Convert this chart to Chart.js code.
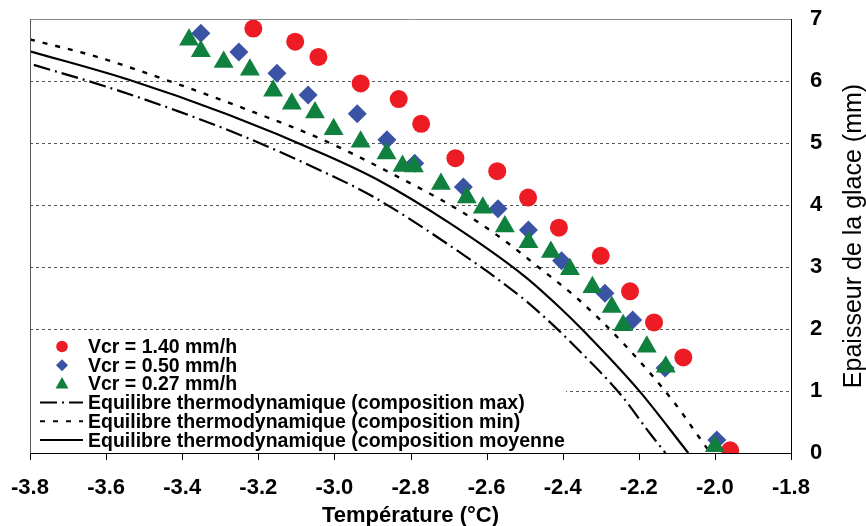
<!DOCTYPE html>
<html>
<head>
<meta charset="utf-8">
<script src="https://cdn.jsdelivr.net/npm/chart.js@4.4.0/dist/chart.umd.min.js"></script>
<style>
  html, body { margin: 0; padding: 0; background: #fff; }
  #wrap { width: 866px; height: 526px; position: relative; }
</style>
</head>
<body>
<div id="wrap"><canvas id="chart"></canvas></div>
<script>
const FONT = "'Liberation Sans', Arial, sans-serif";
const RED = "#ed1c24";
const BLUE = "#3a53a4";
const GREEN = "#10803f";

const xTicks = [-3.8, -3.6, -3.4, -3.2, -3.0, -2.8, -2.6, -2.4, -2.2, -2.0, -1.8];
const yTicks = [0, 1, 2, 3, 4, 5, 6, 7];

// Vcr = 1.40 mm/h
const tempRed = [-3.213, -3.103, -3.042, -2.931, -2.831, -2.772, -2.682, -2.572, -2.491, -2.41, -2.30, -2.223, -2.16, -2.083, -1.96];
const iceRed = [6.845, 6.635, 6.388, 5.961, 5.709, 5.31, 4.756, 4.546, 4.12, 3.635, 3.18, 2.607, 2.106, 1.541, 0.044];

// Vcr = 0.50 mm/h
const tempBlue = [-3.351, -3.251, -3.151, -3.069, -2.94, -2.862, -2.789, -2.661, -2.57, -2.49, -2.403, -2.289, -2.216, -2.131, -1.995];
const iceBlue = [6.769, 6.468, 6.123, 5.774, 5.472, 5.052, 4.675, 4.29, 3.94, 3.598, 3.1, 2.575, 2.144, 1.37, 0.21];

// Vcr = 0.27 mm/h
const tempGreen = [-3.382, -3.351, -3.291, -3.222, -3.161, -3.112, -3.051, -3.002, -2.931, -2.863, -2.821, -2.791, -2.72, -2.652, -2.61, -2.552, -2.49, -2.431, -2.381, -2.322, -2.271, -2.241, -2.179, -2.129, -2.0];
const iceGreen = [6.667, 6.478, 6.307, 6.18, 5.843, 5.633, 5.493, 5.22, 5.02, 4.83, 4.63, 4.62, 4.34, 4.12, 3.955, 3.655, 3.40, 3.24, 2.965, 2.675, 2.355, 2.06, 1.715, 1.39, 0.11];

// Equilibre thermodynamique (composition max)
const tempMax = [-3.79, -3.60, -3.41, -3.24, -3.02, -2.90, -2.70, -2.51, -2.43, -2.35, -2.25, -2.17, -2.13];
const iceMax = [6.26, 5.91, 5.51, 5.11, 4.51, 4.14, 3.36, 2.52, 2.09, 1.61, 0.96, 0.31, 0];

// Equilibre thermodynamique (composition min)
const tempMin = [-3.8, -3.63, -3.43, -3.23, -3.03, -2.86, -2.66, -2.556, -2.46, -2.363, -2.241, -2.105, -2.048, -2.012];
const iceMin = [6.67, 6.40, 5.99, 5.54, 5.05, 4.54, 3.87, 3.44, 2.98, 2.50, 1.77, 0.80, 0.31, 0];

// Equilibre thermodynamique (composition moyenne)
const tempMoy = [-3.8, -3.54, -3.28, -3.02, -2.89, -2.70, -2.50, -2.41, -2.35, -2.20, -2.07];
const iceMoy = [6.48, 6.02, 5.46, 4.80, 4.42, 3.72, 2.85, 2.36, 2.0, 1.01, 0];

const DASH_MAX = [17, 5, 2, 5];
const DASH_MIN = [5, 8];

function toPoints(xs, ys) {
  return xs.map((x, i) => ({ x: x, y: ys[i] }));
}

function markerSet(label, xs, ys, color, style, radius, order) {
  return {
    label: label,
    data: toPoints(xs, ys),
    showLine: false,
    pointStyle: style,
    pointRadius: radius,
    pointHoverRadius: radius,
    pointBackgroundColor: color,
    backgroundColor: color,
    borderColor: color,
    pointBorderWidth: 0,
    order: order
  };
}

function curveSet(label, xs, ys, dash, width) {
  return {
    label: label,
    data: toPoints(xs, ys),
    showLine: true,
    pointRadius: 0,
    borderColor: "#000",
    borderWidth: width,
    borderDash: dash,
    cubicInterpolationMode: "monotone",
    fill: false,
    order: 10
  };
}

const legendItems = [
  { label: "Vcr = 1.40 mm/h", marker: "circle", color: RED },
  { label: "Vcr = 0.50 mm/h", marker: "diamond", color: BLUE },
  { label: "Vcr = 0.27 mm/h", marker: "triangle", color: GREEN },
  { label: "Equilibre thermodynamique (composition max)", dash: DASH_MAX },
  { label: "Equilibre thermodynamique (composition min)", dash: DASH_MIN },
  { label: "Equilibre thermodynamique (composition moyenne", dash: [] }
];

const legendBox = {
  id: "legendBox",
  beforeDatasetsDraw(chart) {
    const ctx = chart.ctx;
    const area = chart.chartArea;
    ctx.save();
    ctx.fillStyle = "#fff";
    ctx.fillRect(area.left + 1, 336, 535, area.bottom - 337);
    ctx.font = "bold 19.5px " + FONT;
    ctx.textBaseline = "alphabetic";
    ctx.textAlign = "left";
    legendItems.forEach((item, i) => {
      const base = 353 + i * 18.7;
      const cy = base - 6.5;
      if (item.marker) {
        ctx.fillStyle = item.color;
        ctx.beginPath();
        if (item.marker === "circle") {
          ctx.arc(62, cy, 5.8, 0, Math.PI * 2);
        } else if (item.marker === "diamond") {
          ctx.moveTo(56, cy); ctx.lineTo(62, cy - 6); ctx.lineTo(68, cy); ctx.lineTo(62, cy + 6);
        } else {
          ctx.moveTo(62, cy - 7); ctx.lineTo(68.5, cy + 4.5); ctx.lineTo(55.5, cy + 4.5);
        }
        ctx.closePath();
        ctx.fill();
      } else {
        ctx.strokeStyle = "#000";
        ctx.lineWidth = 2;
        ctx.setLineDash(item.dash);
        ctx.beginPath();
        ctx.moveTo(40, cy);
        ctx.lineTo(83, cy);
        ctx.stroke();
        ctx.setLineDash([]);
      }
      ctx.fillStyle = "#000";
      ctx.fillText(item.label, 88, base);
    });
    ctx.restore();
  },
  afterDraw(chart) {
    const ctx = chart.ctx;
    const area = chart.chartArea;
    const xScale = chart.scales.x;
    ctx.save();
    // top frame line
    ctx.strokeStyle = "#8a8a8a";
    ctx.lineWidth = 1;
    ctx.beginPath();
    ctx.moveTo(area.left, area.top + 0.5);
    ctx.lineTo(area.right, area.top + 0.5);
    ctx.stroke();
    ctx.strokeStyle = "#555";
    ctx.beginPath();
    ctx.moveTo(area.left + 0.5, area.top);
    ctx.lineTo(area.left + 0.5, area.bottom);
    ctx.stroke();
    // x tick marks below the axis
    ctx.strokeStyle = "#000";
    ctx.beginPath();
    xTicks.forEach(v => {
      const px = Math.round(xScale.getPixelForValue(v)) + 0.5;
      ctx.moveTo(px, area.bottom);
      ctx.lineTo(px, area.bottom + 7);
    });
    ctx.stroke();
    // y axis title, reading bottom to top
    ctx.translate(854, (area.top + area.bottom) / 2);
    ctx.rotate(-Math.PI / 2);
    ctx.font = "25px " + FONT;
    ctx.fillStyle = "#000";
    ctx.textAlign = "center";
    ctx.textBaseline = "middle";
    ctx.fillText("Epaisseur de la glace (mm)", 0, 0);
    ctx.restore();
  }
};

new Chart(document.getElementById("chart"), {
  type: "scatter",
  data: {
    datasets: [
      markerSet("Vcr = 1.40 mm/h", tempRed, iceRed, RED, "circle", 9, 3),
      markerSet("Vcr = 0.50 mm/h", tempBlue, iceBlue, BLUE, "rectRot", 9.5, 2),
      markerSet("Vcr = 0.27 mm/h", tempGreen, iceGreen, GREEN, "triangle", 11.5, 1),
      curveSet("Equilibre thermodynamique (composition max)", tempMax, iceMax, DASH_MAX, 2.2),
      curveSet("Equilibre thermodynamique (composition min)", tempMin, iceMin, DASH_MIN, 2.4),
      curveSet("Equilibre thermodynamique (composition moyenne", tempMoy, iceMoy, [], 2.2)
    ]
  },
  options: {
    responsive: true,
    maintainAspectRatio: false,
    animation: false,
    layout: { padding: { left: 30, top: 19, right: 0, bottom: 0 } },
    plugins: {
      legend: { display: false },
      tooltip: { enabled: false }
    },
    scales: {
      x: {
        type: "linear",
        min: -3.8,
        max: -1.8,
        afterBuildTicks: (scale) => { scale.ticks = xTicks.map(v => ({ value: v })); },
        afterFit: (scale) => { scale.height = 73; },
        ticks: {
          callback: (v) => Number(v).toFixed(1),
          color: "#000",
          font: { family: FONT, size: 22, weight: "bold" },
          padding: 4,
          maxRotation: 0,
          autoSkip: false
        },
        grid: { drawOnChartArea: false, drawTicks: true, tickLength: 18, tickColor: "rgba(0,0,0,0)" },
        border: { color: "#000", width: 1 },
        title: {
          display: true,
          text: "Température (°C)",
          color: "#000",
          font: { family: FONT, size: 22, weight: "bold" },
          padding: { top: 0, bottom: -3 }
        }
      },
      y: {
        type: "linear",
        position: "right",
        min: 0,
        max: 7,
        afterBuildTicks: (scale) => { scale.ticks = yTicks.map(v => ({ value: v })); },
        afterFit: (scale) => { scale.width = 75; },
        ticks: {
          color: "#000",
          font: { family: FONT, size: 22, weight: "bold" },
          padding: 0
        },
        grid: {
          drawTicks: true,
          tickLength: 19,
          tickColor: "rgba(0,0,0,0)",
          lineWidth: 1,
          color: (c) => (c.tick && c.tick.value > 0 && c.tick.value < 7) ? "#555" : "rgba(0,0,0,0)"
        },
        border: { color: "#000", width: 1, dash: [3, 3] }
      }
    }
  },
  plugins: [legendBox]
});
</script>
</body>
</html>
